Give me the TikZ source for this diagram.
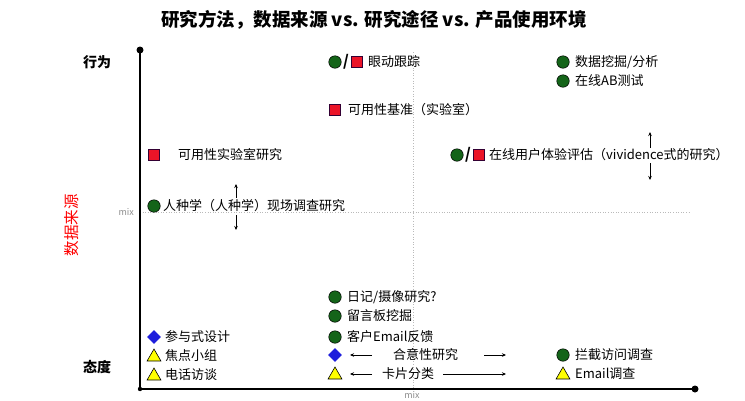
\documentclass[tikz,border=0pt]{standalone}
\usepackage{fontspec}
\setmainfont{Noto Sans CJK SC}
\usetikzlibrary{shapes.geometric,arrows.meta}
\definecolor{dgreen}{RGB}{20,100,25}
\definecolor{mred}{RGB}{235,20,40}
\definecolor{mblue}{RGB}{30,30,220}
\definecolor{myellow}{RGB}{255,255,0}
\definecolor{mgray}{RGB}{140,140,140}
\begin{document}
\begin{tikzpicture}[x=1pt,y=-1pt,
  gdot/.style={circle,draw=black,line width=0.5pt,fill=dgreen,minimum size=12.5pt,inner sep=0pt},
  rsq/.style={rectangle,draw=black!60!violet,line width=0.6pt,fill=mred,minimum size=11pt,inner sep=0pt},
  bdia/.style={diamond,fill=mblue,minimum size=14pt,inner sep=0pt},
  ytri/.style={regular polygon,regular polygon sides=3,draw=black,line width=0.6pt,fill=myellow,minimum size=16pt,inner sep=0pt},
  lbl/.style={anchor=west,inner sep=0pt,font=\fontsize{13}{15}\selectfont},
  slash/.style={inner sep=0pt,font=\fontsize{15}{16}\bfseries},
  axis/.style={line width=1.6pt},
  guide/.style={mgray!60,dotted,line width=0.6pt},
  mixl/.style={text=mgray,inner sep=0pt,font=\fontsize{9}{10}\selectfont},
  arr/.style={-{Stealth[length=4pt,width=3.5pt]},line width=0.6pt},
  side/.style={font=\fontsize{14}{16}\bfseries\selectfont}
]
\useasboundingbox (0,0) rectangle (745,400);

% title
\node[font=\fontsize{18.5}{21}\bfseries\selectfont] (title) at (374,20) {研究方法，数据来源 vs. 研究途径 vs. 产品使用环境};

% side labels
\node[side] (beh) at (97,62) {行为};
\node[side] (att) at (97,367) {态度};
\node[text=red,rotate=90,font=\fontsize{15.5}{17}\selectfont] (src) at (72,225) {数据来源};

% guides
\coordinate (gT) at (413,52);
\coordinate (gB) at (413,389);
\coordinate (gL) at (140,212);
\coordinate (gR) at (690,212);
\draw[guide] (gT) -- (gB);
\draw[guide] (gL) -- (gR);
\node[mixl,anchor=east] (mixL) at (134,212) {mix};
\node[mixl] (mixB) at (412,395) {mix};

% axes
\coordinate (T) at (140,50);
\coordinate (O) at (140,389);
\coordinate (R) at (695,389);
\draw[axis] (T) -- (O) -- (R);
\fill (T) circle (3.5);
\fill (R) circle (3.5);
\fill (O) circle (2.2);

% eye tracking
\node[gdot] (e1) at (335,62) {};
\node[slash] (e2) at (346,62) {/};
\node[rsq] (e3) at (357,62) {};
\node[lbl] (et) at (368,62) {眼动跟踪};

% benchmark
\node[rsq] (b1) at (335,110) {};
\node[lbl] (bt) at (348,110) {可用性基准（实验室）};

% lab study
\node[rsq] (l1) at (154,155) {};
\node[lbl] (lt) at (178,155) {可用性实验室研究};

% ethnography
\node[gdot] (n1) at (154,206) {};
\node[lbl] (nt) at (163,206) {人种学（人种学）现场调查研究};
\coordinate (na1) at (236,198);
\coordinate (na2) at (236,184);
\coordinate (na3) at (236,215);
\coordinate (na4) at (236,230);
\draw[arr] (na1) -- (na2);
\draw[arr] (na3) -- (na4);

% online UX
\node[gdot] (o1) at (457,155) {};
\node[slash] (o2) at (468,155) {/};
\node[rsq] (o3) at (479,155) {};
\node[lbl] (ot) at (489,155) {在线用户体验评估（vividence式的研究）};
\coordinate (oa1) at (650,148);
\coordinate (oa2) at (650,132);
\coordinate (oa3) at (650,163);
\coordinate (oa4) at (650,180);
\draw[arr] (oa1) -- (oa2);
\draw[arr] (oa3) -- (oa4);

% data mining
\node[gdot] (d1) at (563,62) {};
\node[lbl] (dt) at (575,62) {数据挖掘/分析};
\node[gdot] (a1) at (563,81) {};
\node[lbl] (at) at (575,81) {在线AB测试};

% bottom centre
\node[gdot] (c1) at (335,297) {};
\node[lbl] (ct1) at (347,297) {日记/摄像研究?};
\node[gdot] (c2) at (335,316) {};
\node[lbl] (ct2) at (347,316) {留言板挖掘};
\node[gdot] (c3) at (335,337) {};
\node[lbl] (ct3) at (347,337) {客户Email反馈};
\node[bdia] (c4) at (335,355) {};
\node[lbl] (ct4) at (393,355) {合意性研究};
\coordinate (c4l) at (372,355);
\coordinate (c4lt) at (350,355);
\coordinate (c4r) at (484,355);
\coordinate (c4rt) at (506,355);
\draw[arr] (c4l) -- (c4lt);
\draw[arr] (c4r) -- (c4rt);
\node[ytri] (c5) at (335,375) {};
\node[lbl] (ct5) at (382,374) {卡片分类};
\coordinate (c5l) at (372,374);
\coordinate (c5lt) at (350,374);
\coordinate (c5r) at (443,374);
\coordinate (c5rt) at (506,374);
\draw[arr] (c5l) -- (c5lt);
\draw[arr] (c5r) -- (c5rt);

% bottom left
\node[bdia] (p1) at (154,337) {};
\node[lbl] (pt1) at (165,337) {参与式设计};
\node[ytri] (p2) at (154,357) {};
\node[lbl] (pt2) at (165,356) {焦点小组};
\node[ytri] (p3) at (154,376) {};
\node[lbl] (pt3) at (165,375) {电话访谈};

% bottom right
\node[gdot] (r1) at (563,355) {};
\node[lbl] (rt1) at (575,355) {拦截访问调查};
\node[ytri] (r2) at (563,375) {};
\node[lbl] (rt2) at (575,374) {Email调查};
\end{tikzpicture}
\end{document}
